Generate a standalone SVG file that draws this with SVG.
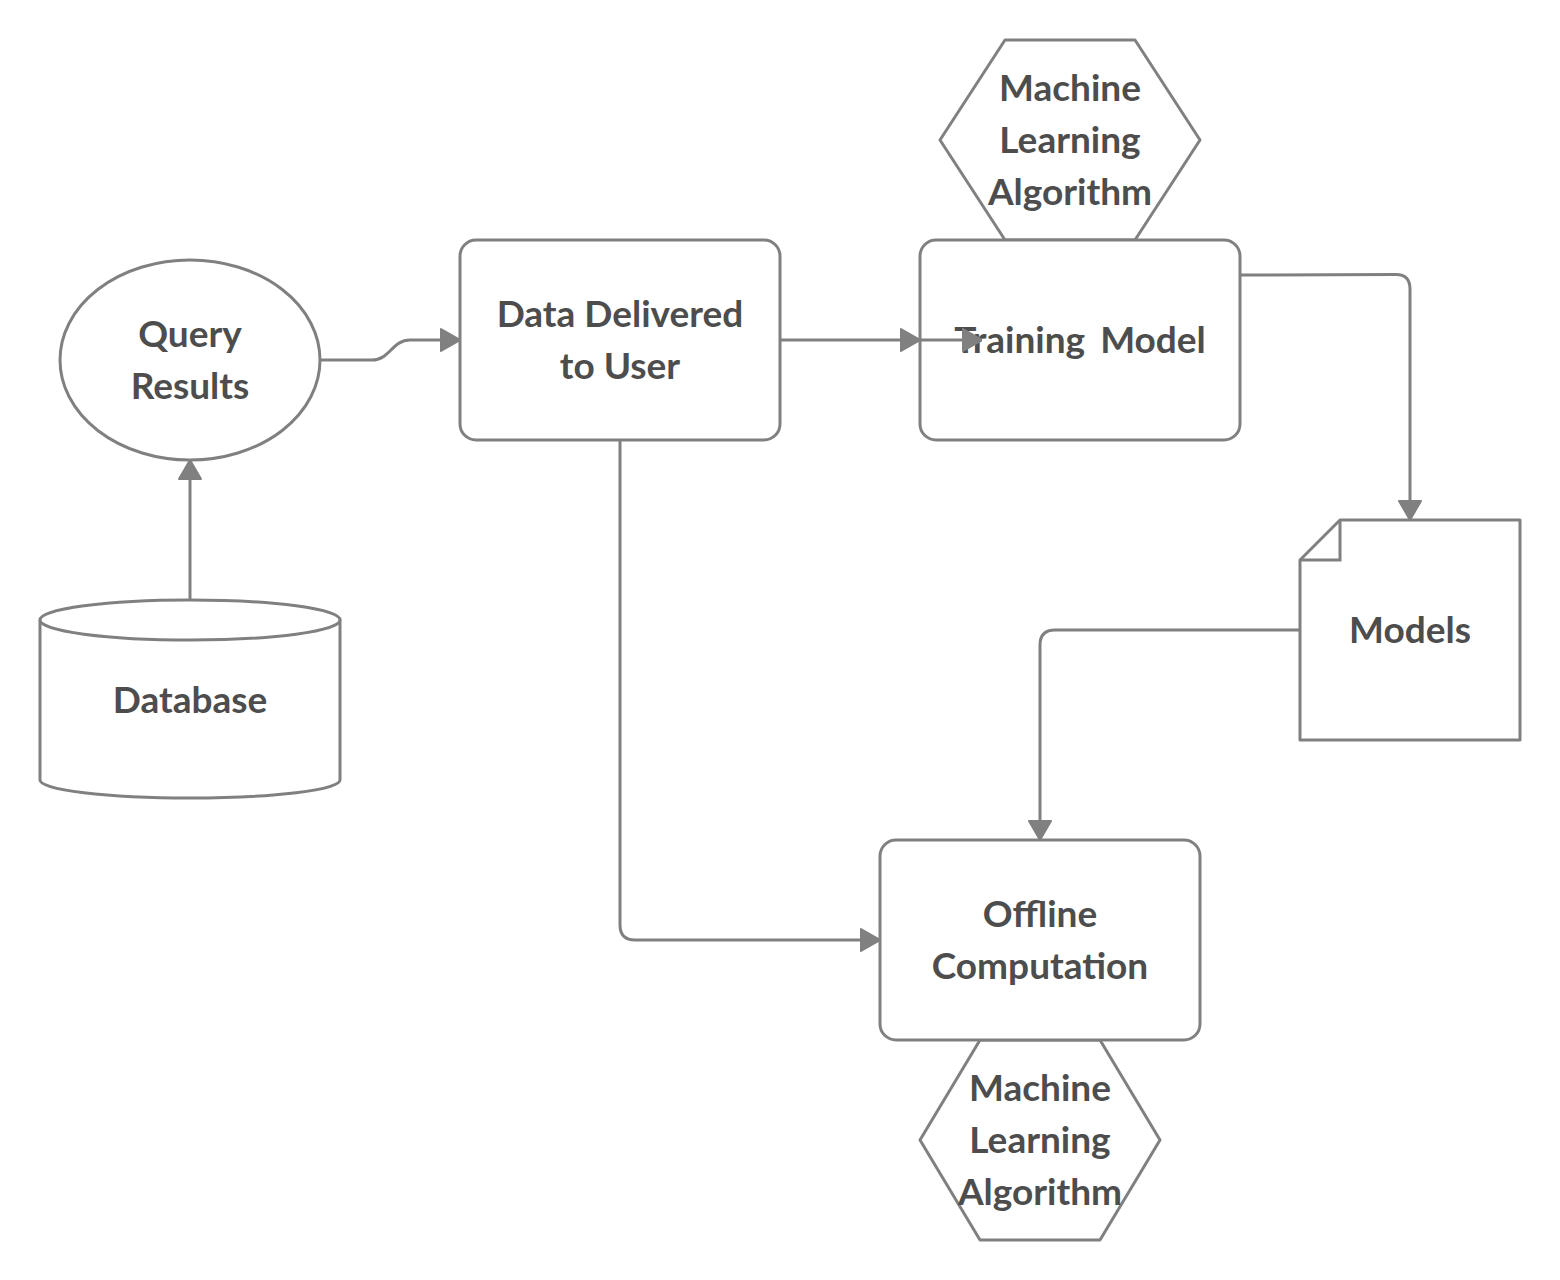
<svg xmlns="http://www.w3.org/2000/svg" width="1560" height="1280" viewBox="0 0 1560 1280">
<style>
.s{fill:#fff;stroke:#808080;stroke-width:3;stroke-linejoin:round}
.c{fill:none;stroke:#808080;stroke-width:3}
.t{font-family:Lato,"Open Sans",sans-serif;font-size:37px;font-weight:bold;fill:#4d4d4d;text-anchor:middle}
</style>
<defs>
<marker id="a" viewBox="0 0 20 24" refX="20" refY="12" markerWidth="20" markerHeight="24" markerUnits="userSpaceOnUse" orient="auto">
<path d="M1,1 L20,12 L1,23 Z" fill="#808080" stroke="#808080" stroke-width="2" stroke-linejoin="round"/>
</marker>
</defs>
<rect width="1560" height="1280" fill="#fff"/>
<g id="hex-top">
<polygon class="s" points="1005,40 1135,40 1200,140 1135,240 1005,240 940,140"/>
</g>
<g id="hex-bottom">
<polygon class="s" points="980,1040 1100,1040 1160,1140 1100,1240 980,1240 920,1140"/>
</g>
<g id="query-results">
<ellipse class="s" cx="190" cy="360" rx="130" ry="100"/>
<text class="t" x="190" y="347">Query</text>
<text class="t" x="190" y="399">Results</text>
</g>
<g id="database">
<path class="s" d="M40,620 L40,780 A150,18 0 0 0 340,780 L340,620"/>
<ellipse class="s" cx="190" cy="620" rx="150" ry="20"/>
<text class="t" x="190" y="713">Database</text>
</g>
<g id="data-delivered">
<rect class="s" x="460" y="240" width="320" height="200" rx="16"/>
<text class="t" x="620" y="327">Data Delivered</text>
<text class="t" x="620" y="379">to User</text>
</g>
<g id="training-model">
<rect class="s" x="920" y="240" width="320" height="200" rx="16"/>
<text class="t" x="1080" y="353" word-spacing="6">Training Model</text>
</g>
<g id="models">
<polygon class="s" points="1340,520 1520,520 1520,740 1300,740 1300,560"/>
<polyline class="c" points="1340,520 1340,560 1300,560"/>
<text class="t" x="1410" y="643">Models</text>
</g>
<g id="offline">
<rect class="s" x="880" y="840" width="320" height="200" rx="16"/>
<text class="t" x="1040" y="927">Offline</text>
<text class="t" x="1040" y="979">Computation</text>
</g>
<g id="hex-top-label">
<text class="t" x="1070" y="101">Machine</text>
<text class="t" x="1070" y="153">Learning</text>
<text class="t" x="1070" y="205">Algorithm</text>
</g>
<g id="hex-bottom-label">
<text class="t" x="1040" y="1101">Machine</text>
<text class="t" x="1040" y="1153">Learning</text>
<text class="t" x="1040" y="1205">Algorithm</text>
</g>
<g id="connectors">
<path class="c" d="M190,600 L190,460" marker-end="url(#a)"/>
<path class="c" d="M320,360 L372,360 C390,360 392,340 410,340 L460,340" marker-end="url(#a)"/>
<path class="c" d="M780,340 L920,340" marker-end="url(#a)"/>
<path class="c" d="M920,340 L982,340" marker-end="url(#a)"/>
<path class="c" d="M1240,275 L1396,274.5 Q1410,274.5 1410,289 L1410,520" marker-end="url(#a)"/>
<path class="c" d="M1300,630 L1055,630 Q1040,630 1040,645 L1040,840" marker-end="url(#a)"/>
<path class="c" d="M620,440 L620,925 Q620,940 635,940 L880,940" marker-end="url(#a)"/>
</g>
</svg>
